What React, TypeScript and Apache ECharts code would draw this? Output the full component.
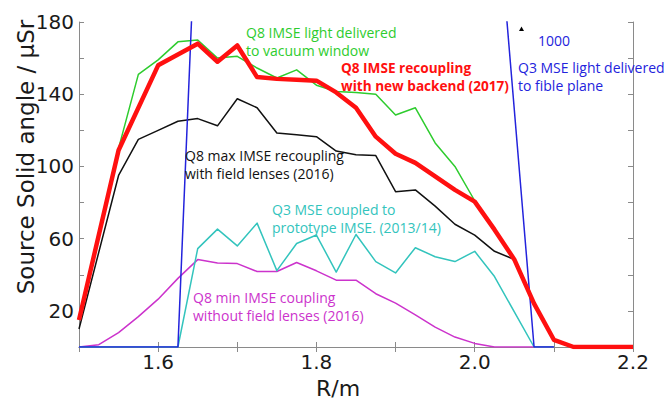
import React, { useEffect, useRef } from "react";
import * as echarts from "echarts";

const redX = [1.5, 1.55, 1.6, 1.65, 1.675, 1.7, 1.725, 1.75, 1.775, 1.8, 1.825, 1.85, 1.875, 1.9, 1.925, 1.95, 1.975, 2.0, 2.025, 2.05, 2.075, 2.1, 2.125, 2.15, 2.175, 2.2];
const redY = [15, 109, 156, 168, 158, 167, 149.5, 148.5, 148, 147.5, 141, 132.5, 116.5, 107, 102, 94.5, 87, 80.5, 65, 48.5, 24, 4, 0, 0, 0, 0];

const greenX = [1.5, 1.55, 1.575, 1.6, 1.625, 1.65, 1.675, 1.7, 1.725, 1.75, 1.775, 1.8, 1.825, 1.85, 1.875, 1.9, 1.925, 1.95, 1.975, 2.0, 2.025];
const greenY = [15, 110, 151, 159, 169, 170, 160, 161, 154.5, 149, 153.5, 145, 141.5, 141, 140, 128.5, 132.5, 113, 100, 81, 65];

const blackX = [1.5, 1.55, 1.575, 1.6, 1.625, 1.65, 1.675, 1.7, 1.725, 1.75, 1.775, 1.8, 1.825, 1.85, 1.875, 1.9, 1.925, 1.95, 1.975, 2.0, 2.025, 2.05];
const blackY = [10, 95, 115, 120, 125, 126.5, 122.5, 137.5, 132.5, 118.5, 117.5, 116.5, 108.5, 106.5, 106, 86, 87, 78, 68, 62, 53, 48.5];

const cyanX = [1.5, 1.625, 1.65, 1.675, 1.7, 1.725, 1.75, 1.775, 1.8, 1.825, 1.85, 1.875, 1.9, 1.925, 1.95, 1.975, 2.0, 2.025, 2.075, 2.1];
const cyanY = [0, 0, 54.5, 65.3, 56, 68.6, 42.3, 57.3, 62, 41.5, 62.3, 47.3, 41, 55, 50, 47.3, 53, 39, 0, 0];

const magentaX = [1.5, 1.525, 1.55, 1.575, 1.6, 1.625, 1.65, 1.675, 1.7, 1.725, 1.75, 1.775, 1.8, 1.825, 1.85, 1.875, 1.9, 1.925, 1.95, 1.975, 2.0, 2.025, 2.1];
const magentaY = [0, 1.3, 8, 16.8, 26.5, 38, 48.4, 46.5, 46.2, 41.8, 41.8, 46.8, 42.2, 37, 37, 29.5, 24.3, 17.8, 11, 5.5, 2, 0, 0];

const blueX = [1.5, 1.625, 1.72, 1.885, 2.075, 2.1];
const blueY = [0, 0, 1000, 1000, 0, 0];

const pairs = (xs: number[], ys: number[]) => xs.map((x, i) => [x, ys[i]]);

const AXIS_COLOR = "#8a8a8a";
const ANNO_FONT = "Open Sans";

export default function App() {
  const ref = useRef<HTMLDivElement>(null);
  useEffect(() => {
    document.body.style.margin = "0";
    const chart = echarts.init(ref.current!, null, { renderer: "svg" });
    const baseX = {
      type: "value" as const,
      min: 1.5,
      max: 2.2,
      interval: 0.1,
      axisLine: { show: true, lineStyle: { color: AXIS_COLOR, width: 1 } },
      axisTick: { show: true, inside: true, length: 5, lineStyle: { color: AXIS_COLOR } },
      splitLine: { show: false },
    };
    const baseY = {
      type: "value" as const,
      min: 0,
      max: 180,
      interval: 20,
      axisLine: { show: true, lineStyle: { color: AXIS_COLOR, width: 1 } },
      axisTick: { show: true, inside: true, length: 5, lineStyle: { color: AXIS_COLOR } },
      splitLine: { show: false },
    };
    const line = (name: string, xs: number[], ys: number[], color: string, width: number, z: number) => ({
      name,
      type: "line" as const,
      data: pairs(xs, ys),
      showSymbol: false,
      symbol: "none",
      clip: true,
      z,
      lineStyle: { color, width, join: "round" },
      itemStyle: { color },
    });
    const txt = (x: number, y: number, text: string, fill: string, size: number, lh: number, weight = "normal") => ({
      type: "text",
      x,
      y,
      z: 100,
      style: {
        text,
        fill,
        fontSize: size,
        fontFamily: ANNO_FONT,
        fontWeight: weight,
        lineHeight: lh,
        textAlign: "left",
        textVerticalAlign: "middle",
        align: "left",
        verticalAlign: "middle",
      },
    });
    chart.setOption({
      animation: false,
      grid: { left: 79, top: 22, right: 32, bottom: 59, containLabel: false },
      xAxis: [
        {
          ...baseX,
          position: "bottom",
          axisLabel: {
            show: true,
            margin: 5,
            color: "#1a1a1a",
            fontSize: 20,
            fontFamily: "DejaVu Sans",
            formatter: (v: number) => (Math.round(v * 10) % 2 === 0 ? v.toFixed(1) : ""),
          },
        },
        { ...baseX, position: "top", axisLabel: { show: false } },
      ],
      yAxis: [
        {
          ...baseY,
          position: "left",
          axisLabel: {
            show: true,
            margin: 5,
            color: "#1a1a1a",
            fontSize: 20,
            fontFamily: "DejaVu Sans",
            formatter: (v: number) => (Math.round(v / 20) % 2 === 1 ? String(v) : ""),
          },
        },
        { ...baseY, position: "right", axisLabel: { show: false } },
      ],
      series: [
        line("Q8 min IMSE coupling without field lenses (2016)", magentaX, magentaY, "#cc33cc", 1.5, 2),
        line("Q3 MSE coupled to prototype IMSE (2013/14)", cyanX, cyanY, "#33c4bd", 1.5, 3),
        line("Q8 max IMSE recoupling with field lenses (2016)", blackX, blackY, "#111111", 1.5, 4),
        line("Q8 IMSE light delivered to vacuum window", greenX, greenY, "#2ecc2e", 1.5, 5),
        line("Q3 MSE light delivered to fible plane", blueX, blueY, "#2323dc", 1.5, 6),
        line("Q8 IMSE recoupling with new backend (2017)", redX, redY, "#ff1010", 4.5, 7),
      ],
      graphic: [
        txt(246, 41, "Q8 IMSE light delivered\nto vacuum window", "#2ecc2e", 14, 18),
        txt(341, 76.5, "Q8 IMSE recoupling\nwith new backend (2017)", "#ff1010", 13.6, 17.5, "bold"),
        txt(538, 40, "1000", "#2323dc", 14, 18),
        txt(518, 76, "Q3 MSE light delivered\nto fible plane", "#2323dc", 14, 18),
        txt(185, 164, "Q8 max IMSE recoupling\nwith field lenses (2016)", "#111111", 14, 18),
        txt(272, 218.5, "Q3 MSE coupled to\nprototype IMSE. (2013/14)", "#33c4bd", 14, 18),
        txt(193, 306.5, "Q8 min IMSE coupling\nwithout field lenses (2016)", "#cc33cc", 14, 18),
        {
          type: "polygon",
          z: 100,
          shape: { points: [[519, 31], [524, 31], [521.5, 26.5]] },
          style: { fill: "#000000" },
        },
        {
          type: "text",
          x: 26,
          y: 157,
          rotation: Math.PI / 2,
          z: 100,
          style: {
            text: "Source Solid angle / µSr",
            fill: "#1a1a1a",
            fontSize: 23,
            fontFamily: "DejaVu Sans",
            textAlign: "center",
            textVerticalAlign: "middle",
            align: "center",
            verticalAlign: "middle",
          },
        },
        {
          type: "text",
          x: 338,
          y: 388,
          z: 100,
          style: {
            text: "R/m",
            fill: "#1a1a1a",
            fontSize: 22,
            fontFamily: "DejaVu Sans",
            textAlign: "center",
            textVerticalAlign: "middle",
            align: "center",
            verticalAlign: "middle",
          },
        },
      ],
    });
    return () => chart.dispose();
  }, []);
  return <div ref={ref} style={{ width: 665, height: 406 }} />;
}
